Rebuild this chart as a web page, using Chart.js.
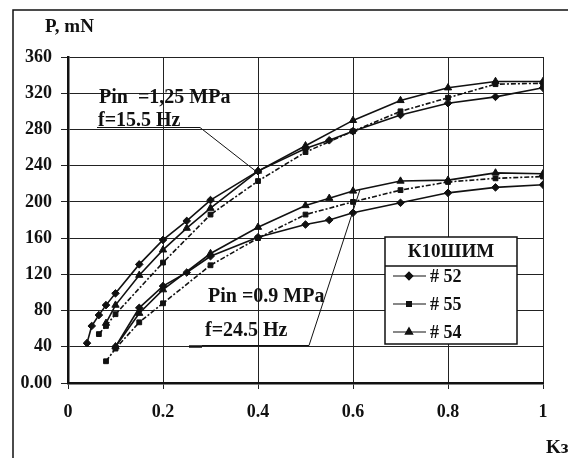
<!DOCTYPE html>
<html>
<head>
<meta charset="utf-8">
<script src="https://cdn.jsdelivr.net/npm/chart.js@4"></script>
<style>
  html, body { margin: 0; padding: 0; background: #fff; }
  #wrap { width: 568px; height: 464px; position: relative; }
</style>
</head>
<body>
<div id="wrap"><canvas id="chart" width="568" height="464"></canvas></div>
<script>
// --- data (Kз vs P, mN) ---
// Pin = 1.25 MPa, f = 15.5 Hz
const xHi52 = [0.04, 0.05, 0.065, 0.08, 0.1, 0.15, 0.2, 0.25, 0.3, 0.4, 0.5, 0.55, 0.6, 0.7, 0.8, 0.9, 1.0];
const yHi52 = [44, 63, 75, 86, 99, 131, 158, 179, 202, 234, 259, 268, 278, 296, 309, 316, 326];
const xHi55 = [0.065, 0.08, 0.1, 0.2, 0.3, 0.4, 0.5, 0.6, 0.7, 0.8, 0.9, 1.0];
const yHi55 = [54, 63, 76, 133, 186, 223, 255, 278, 300, 315, 330, 331];
const xHi54 = [0.08, 0.1, 0.15, 0.2, 0.25, 0.3, 0.4, 0.5, 0.6, 0.7, 0.8, 0.9, 1.0];
const yHi54 = [66, 86, 119, 147, 171, 193, 234, 262, 290, 312, 326, 333, 333];
// Pin = 0.9 MPa, f = 24.5 Hz
const xLo52 = [0.1, 0.15, 0.2, 0.25, 0.3, 0.4, 0.5, 0.55, 0.6, 0.7, 0.8, 0.9, 1.0];
const yLo52 = [40, 83, 107, 122, 140, 161, 175, 180, 188, 199, 210, 216, 219];
const xLo55 = [0.08, 0.1, 0.15, 0.2, 0.3, 0.4, 0.5, 0.6, 0.7, 0.8, 0.9, 1.0];
const yLo55 = [24, 38, 67, 88, 130, 160, 186, 200, 213, 222, 226, 228];
const xLo54 = [0.1, 0.15, 0.2, 0.3, 0.4, 0.5, 0.55, 0.6, 0.7, 0.8, 0.9, 1.0];
const yLo54 = [40, 77, 103, 143, 172, 196, 204, 212, 223, 224, 232, 231];

const seriesNames = ['# 52', '# 55', '# 54'];
const legendTitle = 'К10ШИМ';
const yTicks = [0, 40, 80, 120, 160, 200, 240, 280, 320, 360];

const FONT = '"Liberation Serif", "DejaVu Serif", serif';

const pts = (xs, ys) => xs.map((x, i) => ({ x, y: ys[i] }));

// style per sample
const STYLE = {
    '# 52': { pointStyle: 'rectRot', radius: 3.8, dash: [] },
    '# 55': { pointStyle: 'rect', radius: 3.4, dash: [5, 2, 2, 2] },
    '# 54': { pointStyle: 'triangle', radius: 4.2, dash: [] }
};

function mk(name, xs, ys) {
    const s = STYLE[name];
    return {
        label: name,
        data: pts(xs, ys),
        borderColor: '#111',
        backgroundColor: '#111',
        borderWidth: 1.6,
        borderDash: s.dash,
        pointStyle: s.pointStyle,
        pointRadius: s.radius,
        pointBorderWidth: 1,
        showLine: true,
        tension: 0
    };
}

// annotations + legend box + frame
const decor = {
    id: 'decor',
    afterDraw(chart) {
        const ctx = chart.ctx;
        const xs = chart.scales.x, ys = chart.scales.y;
        ctx.save();
        ctx.strokeStyle = '#111';
        ctx.fillStyle = '#111';

        // outer frame
        ctx.lineWidth = 1.5;
        ctx.beginPath();
        ctx.moveTo(13, 458);
        ctx.lineTo(13, 10);
        ctx.lineTo(568, 10);
        ctx.stroke();

        ctx.font = 'bold 19px ' + FONT;
        ctx.textBaseline = 'alphabetic';
        ctx.textAlign = 'left';
        ctx.fillText('P, mN', 45, 32);
        ctx.fillText('Kз', 546, 453);

        // callout: upper group
        ctx.font = 'bold 20px ' + FONT;
        ctx.fillText('Pin  =1,25 MPa', 99, 103);
        ctx.fillText('f=15.5 Hz', 98, 126);
        ctx.lineWidth = 1;
        ctx.beginPath();
        ctx.moveTo(97, 127.5);
        ctx.lineTo(200, 127.5);
        ctx.lineTo(xs.getPixelForValue(0.4), ys.getPixelForValue(232));
        ctx.stroke();

        // callout: lower group
        ctx.fillText('Pin =0.9 MPa', 208, 302);
        ctx.fillText('f=24.5 Hz', 205, 336);
        ctx.beginPath();
        ctx.moveTo(202, 345.5);
        ctx.lineTo(309, 345.5);
        ctx.lineTo(xs.getPixelForValue(0.615), ys.getPixelForValue(214));
        ctx.stroke();
        ctx.lineWidth = 2.5;
        ctx.beginPath();
        ctx.moveTo(189, 346.5);
        ctx.lineTo(202, 346.5);
        ctx.stroke();

        // legend box
        const L = 385, R = 517, T = 237, B = 344, S = 266;
        ctx.fillStyle = '#fff';
        ctx.fillRect(L, T, R - L, B - T);
        ctx.lineWidth = 1.5;
        ctx.strokeRect(L, T, R - L, B - T);
        ctx.beginPath();
        ctx.moveTo(L, S);
        ctx.lineTo(R, S);
        ctx.stroke();
        ctx.fillStyle = '#111';
        ctx.font = 'bold 19px ' + FONT;
        ctx.textAlign = 'center';
        ctx.textBaseline = 'middle';
        ctx.fillText(legendTitle, (L + R) / 2, 252);
        ctx.textAlign = 'left';
        ctx.font = 'bold 18px ' + FONT;
        const rows = [276, 304, 332];
        seriesNames.forEach((name, i) => {
            const y = rows[i];
            const s = STYLE[name];
            ctx.lineWidth = 1.2;
            ctx.setLineDash([]);
            ctx.beginPath();
            ctx.moveTo(393, y);
            ctx.lineTo(426, y);
            ctx.stroke();
            Chart.helpers.drawPoint(ctx, { pointStyle: s.pointStyle, radius: s.radius, rotation: 0, borderWidth: 1 }, 409, y);
            ctx.fill();
            ctx.fillText(name, 430, y + 1);
        });
        ctx.restore();
    }
};

new Chart(document.getElementById('chart'), {
    type: 'scatter',
    data: {
        datasets: [
            mk('# 52', xHi52, yHi52),
            mk('# 55', xHi55, yHi55),
            mk('# 54', xHi54, yHi54),
            mk('# 52', xLo52, yLo52),
            mk('# 55', xLo55, yLo55),
            mk('# 54', xLo54, yLo54)
        ]
    },
    options: {
        responsive: false,
        animation: false,
        layout: { padding: { left: 0, right: 25, top: 57, bottom: 0 } },
        plugins: {
            legend: { display: false },
            tooltip: { enabled: false }
        },
        scales: {
            x: {
                type: 'linear',
                min: 0, max: 1,
                afterFit: s => { s.height = 81; },
                grid: { color: '#222', lineWidth: 1, tickLength: 6 },
                border: { color: '#111', width: 2.5 },
                ticks: {
                    stepSize: 0.2,
                    color: '#111',
                    padding: 13,
                    font: { family: FONT, size: 18, weight: 'bold' },
                    callback: v => (v === 0 ? '0' : v === 1 ? '1' : v.toFixed(1))
                }
            },
            y: {
                min: 0, max: 360,
                afterFit: s => { s.width = 68; },
                afterBuildTicks: s => { s.ticks = yTicks.map(v => ({ value: v })); },
                grid: { color: '#222', lineWidth: 1, tickLength: 7 },
                border: { color: '#111', width: 2.5 },
                ticks: {
                    color: '#111',
                    padding: 9,
                    font: { family: FONT, size: 18, weight: 'bold' },
                    callback: v => (v === 0 ? '0.00' : String(v))
                }
            }
        }
    },
    plugins: [decor]
});
</script>
</body>
</html>
